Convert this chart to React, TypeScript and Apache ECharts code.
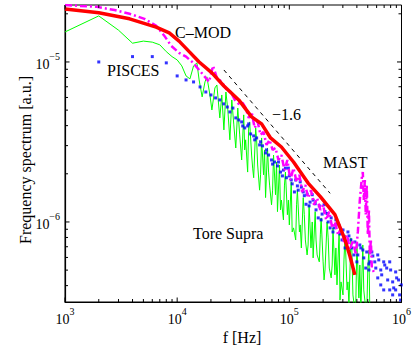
import React, { useEffect, useRef } from "react";
import * as echarts from "echarts";

const FONT = '"Liberation Serif", "Times New Roman", serif';

// frequencies in kHz, spectra in units of 1e-6 a.u.
const toreSupraF = [1, 2, 3, 4, 5, 6, 7, 8, 9, 10, 11, 12, 13, 14, 15, 15.7, 16.7, 17.7, 18.4, 19.6, 20.4, 21.7, 22.6, 24.0, 25.0, 26.1, 27.2, 28.3, 29.5, 30.7, 32.0, 33.3, 34.7, 36.1, 37.6, 39.2, 40.8, 42.5, 44.3, 46.1, 48.1, 50.1, 52.2, 54.3, 56.6, 58.9, 61.4, 63.9, 66.7, 69.4, 72.3, 75.3, 78.4, 81.7, 85.0, 88.6, 92.3, 96.1, 100, 104, 109, 114, 118, 123, 128, 133, 139, 144, 150, 156, 163, 170, 177, 185, 192, 200, 208, 217, 227, 236, 245, 255, 266, 278, 289, 301, 314, 327, 340, 354, 369, 384, 400, 417, 434, 452, 471, 490, 512, 522];
const toreSupraS = [15.4, 19.4, 15.8, 13.1, 13.5, 13.3, 12.8, 11.6, 10.8, 10.3, 9.45, 8.18, 7.84, 9.45, 9.86, 7.72, 6.05, 7.50, 8.07, 6.22, 5.01, 6.88, 7.18, 4.47, 6.22, 3.76, 6.49, 5.01, 3.26, 5.79, 4.04, 2.90, 5.15, 3.50, 2.44, 4.67, 3.26, 2.05, 4.22, 2.62, 1.89, 3.87, 2.27, 1.58, 3.35, 1.97, 1.42, 2.90, 1.70, 1.28, 2.62, 1.48, 1.16, 2.27, 1.37, 1.03, 2.05, 1.11, 0.958, 1.78, 0.918, 0.772, 1.58, 0.866, 0.688, 1.42, 0.772, 0.622, 1.28, 0.688, 0.596, 1.16, 0.622, 0.563, 1.06, 0.563, 0.501, 1.0, 0.515, 0.447, 0.918, 0.467, 0.404, 0.866, 0.422, 0.350, 0.830, 0.376, 0.302, 0.795, 0.350, 0.28, 0.750, 0.335, 0.28, 0.718, 0.325, 0.27, 0.668, 0.28];
// additional Tore Supra samples in between (dense, noisy part)
const toreSupraF2 = [40.0, 43.4, 47.1, 51.1, 55.4, 60.1, 65.3, 70.9, 76.9, 83.4, 90.5, 98.1, 106, 116, 125, 136, 147, 160, 173, 189, 204, 222, 241, 260, 283, 307, 333, 361, 392, 425, 461, 501];
const toreSupraS2 = [2.82, 3.87, 2.17, 3.26, 1.97, 2.82, 2.05, 1.58, 2.37, 1.19, 1.70, 1.37, 0.866, 1.28, 0.958, 1.11, 0.718, 1.0, 0.772, 0.830, 0.434, 0.795, 0.538, 0.688, 0.325, 0.579, 0.422, 0.668, 0.325, 0.538, 0.376, 0.515];

const piscesF = [2, 4, 6, 8, 10, 12, 14, 16, 18, 20, 22, 24, 26, 28, 29.5, 31.4, 33.3, 35.4, 37.6, 40.0, 42.5, 45.2, 48.1, 51.1, 54.3, 57.7, 61.4, 65.3, 69.4, 73.8, 78.4, 83.4, 88.6, 94.2, 100, 106, 114, 120, 128, 136, 144, 153, 163, 173, 185, 196, 208, 222, 236, 250, 266, 283, 301, 320, 340, 361, 384, 408, 434, 461, 490, 522, 555, 590, 627, 666, 709, 753, 800, 852, 905, 962, 995, 98.1, 111, 125, 141, 160, 181, 204, 231, 260, 295, 333, 377, 425, 480, 544, 614, 694, 785, 887, 981, 834, 653, 512, 86.8, 92.3, 104, 118, 133, 150, 170, 192, 217, 245, 278, 314, 354, 400, 452, 512, 578, 653, 738, 834, 942, 694, 887, 785, 614, 38.4, 43.4, 49.1, 55.4, 62.6, 70.9, 80.0];
const piscesS = [10.0, 10.8, 10.8, 9.87, 8.18, 7.72, 7.50, 6.98, 6.49, 6.22, 5.96, 5.79, 5.47, 5.23, 4.87, 5.15, 4.47, 4.34, 4.22, 3.87, 3.98, 3.55, 3.45, 3.35, 3.03, 2.99, 2.70, 2.62, 2.44, 2.37, 2.24, 2.05, 2.11, 1.89, 1.94, 1.73, 1.83, 1.58, 1.65, 1.46, 1.49, 1.33, 1.37, 1.19, 1.26, 1.12, 1.16, 1.0, 1.06, 0.918, 0.972, 0.841, 0.891, 0.750, 0.818, 0.688, 0.750, 0.622, 0.688, 0.596, 0.649, 0.563, 0.613, 0.515, 0.579, 0.467, 0.538, 0.434, 0.501, 0.387, 0.447, 0.350, 0.404, 2.17, 1.54, 1.78, 1.29, 1.48, 1.06, 1.28, 0.918, 1.03, 0.772, 0.866, 0.622, 0.718, 0.515, 0.649, 0.447, 0.563, 0.376, 0.487, 0.325, 0.422, 0.404, 0.501, 1.94, 2.17, 1.83, 1.68, 1.54, 1.26, 1.30, 1.03, 1.13, 0.866, 0.945, 0.688, 0.772, 0.563, 0.668, 0.546, 0.563, 0.501, 0.515, 0.350, 0.434, 0.376, 0.376, 0.563, 0.622, 3.98, 4.10, 3.26, 3.17, 2.82, 2.30, 2.37];

const cmodF = [1, 2, 3.76, 6.5, 8.5, 10.4, 12.8, 15.7, 20.4, 26.1, 35.4, 46.1, 56.6, 68.0, 85, 109, 147, 189, 255, 314, 347, 384];
const cmodS = [21.4, 20.3, 18.6, 16.5, 15.2, 13.5, 11.6, 10.0, 8.54, 7.08, 5.79, 4.54, 4.10, 3.35, 2.94, 2.37, 1.75, 1.44, 1.11, 0.772, 0.613, 0.467];

const mastF = [1, 1.36, 1.92, 2.77, 3.76, 5.11, 6.52, 7.67, 8.86, 10.4, 12.0, 13.9, 15.7, 18.0, 19.2, 20.9, 22.6, 25.0, 27.7, 30.1, 32.7, 35.4, 38.4, 40.8, 43.4, 46.1, 49.1, 52.2, 55.4, 58.9, 62.6, 66.7, 70.9, 75.3, 80.0, 85.0, 90.5, 96.1, 102, 109, 116, 123, 130, 139, 147, 156, 166, 177, 189, 200, 213, 227, 241, 255, 272, 289, 307, 327, 347, 369, 392, 408, 425, 443, 452, 461, 471, 480, 490, 501, 512, 522, 533, 544, 567];
const mastS = [22.7, 22.4, 22.1, 21.1, 20.0, 18.6, 16.8, 14.6, 12.6, 11.4, 10.8, 9.87, 8.91, 7.94, 7.50, 9.45, 7.95, 7.50, 6.68, 6.49, 5.79, 5.46, 5.54, 5.16, 4.47, 4.87, 3.87, 4.22, 3.50, 3.65, 3.03, 3.26, 2.82, 2.90, 2.44, 2.62, 2.11, 2.44, 1.83, 2.17, 1.78, 1.97, 1.54, 1.70, 1.41, 1.58, 1.28, 1.41, 1.19, 1.28, 1.03, 1.16, 0.918, 1.0, 0.830, 0.918, 0.750, 0.830, 0.668, 0.772, 0.622, 0.866, 1.37, 1.89, 2.05, 1.37, 1.83, 1.11, 1.70, 0.830, 1.19, 0.622, 0.772, 0.515, 0.487];

const slopeF = [26.1, 231];
const slopeS = [8.91, 1.51];

const X_MIN = 1e3;
const X_MAX = 1e6;
const Y_MIN = 3.16e-7;
const Y_MAX = 2.27e-5;

const xMajorTicks = [1e3, 1e4, 1e5, 1e6];
const xMinorTicks = [2e3, 3e3, 4e3, 5e3, 6e3, 7e3, 8e3, 9e3, 2e4, 3e4, 4e4, 5e4, 6e4, 7e4, 8e4, 9e4, 2e5, 3e5, 4e5, 5e5, 6e5, 7e5, 8e5, 9e5];
const yMajorTicks = [1e-6, 1e-5];
const yMinorTicks = [4e-7, 5e-7, 6e-7, 7e-7, 8e-7, 9e-7, 2e-6, 3e-6, 4e-6, 5e-6, 6e-6, 7e-6, 8e-6, 9e-6, 2e-5];

const pairs = (fk: number[], s: number[]) => fk.map((f, i) => [f * 1e3, s[i] * 1e-6]);

const powLabel = (v: number) => {
  const e = Math.log10(v);
  const n = Math.round(e);
  if (Math.abs(e - n) > 1e-6) return "";
  const exp = n < 0 ? "\u2212" + -n : String(n);
  return `{b|10}{s|${exp}}`;
};

const richStyle = {
  b: { fontSize: 14, fontFamily: FONT, color: "#000", verticalAlign: "bottom" },
  s: { fontSize: 10, fontFamily: FONT, color: "#000", verticalAlign: "bottom", padding: [0, 0, 10, 0] },
};

export default function App() {
  const ref = useRef<HTMLDivElement>(null);
  useEffect(() => {
    document.body.style.margin = "0";
    if (!ref.current) return;
    const chart = echarts.init(ref.current, null, { renderer: "svg" });
    const toreSupra = [...pairs(toreSupraF, toreSupraS), ...pairs(toreSupraF2, toreSupraS2)].sort((a, b) => a[0] - b[0]);
    const xTickData = [
      ...xMajorTicks.map((f) => [f, Y_MIN, 4.5]),
      ...xMinorTicks.map((f) => [f, Y_MIN, 3]),
    ];
    const yTickData = [
      ...yMajorTicks.map((v) => [X_MIN, v, 4.5]),
      ...yMinorTicks.map((v) => [X_MIN, v, 3]),
    ];
    const textStyle = (t: string, x: number, y: number) => ({
      type: "text",
      x,
      y,
      style: { text: t, fontFamily: FONT, fontSize: 16, fill: "#000", align: "left", verticalAlign: "middle" },
    });
    chart.setOption({
      animation: false,
      backgroundColor: "#fff",
      grid: { left: 65, top: 5, width: 338, height: 297, show: true, borderColor: "#000", borderWidth: 1, backgroundColor: "transparent" },
      xAxis: {
        type: "log",
        logBase: 10,
        min: X_MIN,
        max: X_MAX,
        axisLine: { show: true, lineStyle: { color: "#000", width: 1.2 } },
        axisTick: { show: false },
        splitLine: { show: false },
        axisLabel: { formatter: powLabel, rich: richStyle, margin: 4, showMinLabel: true, showMaxLabel: true },
      },
      yAxis: {
        type: "log",
        logBase: 10,
        min: Y_MIN,
        max: Y_MAX,
        axisLine: { show: true, lineStyle: { color: "#000", width: 1.2 } },
        axisTick: { show: false },
        splitLine: { show: false },
        axisLabel: { formatter: powLabel, rich: richStyle, margin: 5 },
      },
      graphic: [
        textStyle("C\u2013MOD", 175, 32),
        textStyle("PISCES", 107, 70),
        textStyle("\u22121.6", 272, 114),
        textStyle("MAST", 323, 162),
        textStyle("Tore Supra", 193, 233),
        {
          type: "text",
          x: 242,
          y: 337,
          style: { text: "f [Hz]", fontFamily: FONT, fontSize: 16, fill: "#000", align: "center", verticalAlign: "middle" },
        },
        {
          type: "text",
          x: 25,
          y: 160,
          rotation: Math.PI / 2,
          style: { text: "Frequency spectrum [a.u.]", fontFamily: FONT, fontSize: 16, fill: "#000", align: "center", verticalAlign: "middle" },
        },
      ],
      series: [
        {
          name: "Tore Supra",
          type: "line",
          data: toreSupra,
          symbol: "none",
          lineStyle: { color: "#00ff00", width: 1 },
          z: 2,
        },
        {
          name: "PISCES",
          type: "scatter",
          data: pairs(piscesF, piscesS),
          symbol: "rect",
          symbolSize: 3,
          itemStyle: { color: "#0000ff" },
          z: 3,
        },
        {
          name: "MAST",
          type: "line",
          data: pairs(mastF, mastS),
          symbol: "none",
          lineStyle: { color: "#ff00ff", width: 2.5, type: [7, 3, 2, 3] },
          z: 4,
        },
        {
          name: "C-MOD",
          type: "line",
          data: pairs(cmodF, cmodS),
          symbol: "none",
          lineStyle: { color: "#ff0000", width: 3.5 },
          z: 5,
        },
        {
          name: "slope",
          type: "line",
          data: pairs(slopeF, slopeS),
          symbol: "none",
          lineStyle: { color: "#000", width: 1, type: [4, 4] },
          z: 6,
        },
        {
          type: "custom",
          coordinateSystem: "cartesian2d",
          clip: false,
          silent: true,
          z: 10,
          data: xTickData,
          renderItem: (_p: any, api: any) => {
            const f = api.value(0);
            const len = api.value(2);
            const b = api.coord([f, Y_MIN]);
            const t = api.coord([f, Y_MAX]);
            return {
              type: "group",
              children: [
                { type: "line", shape: { x1: b[0], y1: b[1], x2: b[0], y2: b[1] - len }, style: { stroke: "#000", lineWidth: 1 } },
                { type: "line", shape: { x1: t[0], y1: t[1], x2: t[0], y2: t[1] + len }, style: { stroke: "#000", lineWidth: 1 } },
              ],
            };
          },
        },
        {
          type: "custom",
          coordinateSystem: "cartesian2d",
          clip: false,
          silent: true,
          z: 10,
          data: yTickData,
          renderItem: (_p: any, api: any) => {
            const v = api.value(1);
            const len = api.value(2);
            const l = api.coord([X_MIN, v]);
            const r = api.coord([X_MAX, v]);
            return {
              type: "group",
              children: [
                { type: "line", shape: { x1: l[0], y1: l[1], x2: l[0] + len, y2: l[1] }, style: { stroke: "#000", lineWidth: 1 } },
                { type: "line", shape: { x1: r[0], y1: r[1], x2: r[0] - len, y2: r[1] }, style: { stroke: "#000", lineWidth: 1 } },
              ],
            };
          },
        },
      ],
    });
    return () => chart.dispose();
  }, []);
  return <div ref={ref} style={{ width: 414, height: 347 }} />;
}
